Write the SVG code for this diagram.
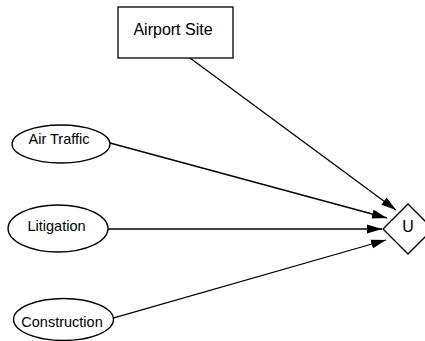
<svg xmlns="http://www.w3.org/2000/svg" width="425" height="341" viewBox="0 0 425 341">
<defs>
<style>
.n{fill:#fff;stroke:#000;stroke-width:1.3}
.t{font-family:"Liberation Sans",Arial,sans-serif;font-size:16px;fill:#000;text-anchor:middle}
.s{font-size:14.5px}
.e{stroke:#000;stroke-width:1.3;fill:none;marker-end:url(#a)}
</style>
<marker id="a" viewBox="0 0 15 10" refX="15" refY="5" markerWidth="15" markerHeight="10" markerUnits="userSpaceOnUse" orient="auto"><path d="M0,0.5 L15,5 L0,9.5 Z" fill="#000"/></marker>
</defs>
<rect width="425" height="341" fill="#fff"/>
<g id="edges">
<path class="e" d="M190,58 L396,210"/>
<path class="e" d="M110,143 L387,218"/>
<path class="e" d="M107,229 L382,229"/>
<path class="e" d="M113,318 L386,240"/>
</g>
<g id="airport"><rect class="n" x="118" y="7" width="115" height="51"/><text class="t" x="173" y="35">Airport Site</text></g>
<g id="airtraffic"><ellipse class="n" cx="61" cy="144" rx="49" ry="19"/><text class="t s" x="59" y="143.5">Air Traffic</text></g>
<g id="litigation"><ellipse class="n" cx="58" cy="228.5" rx="50" ry="23.5"/><text class="t s" x="56.5" y="231">Litigation</text></g>
<g id="construction"><ellipse class="n" cx="63.5" cy="319.5" rx="50" ry="21"/><text class="t s" x="62" y="327">Construction</text></g>
<g id="u"><path class="n" d="M408,204 L433,229 L408,254 L383,229 Z"/><text class="t" x="408" y="232">U</text></g>
</svg>
